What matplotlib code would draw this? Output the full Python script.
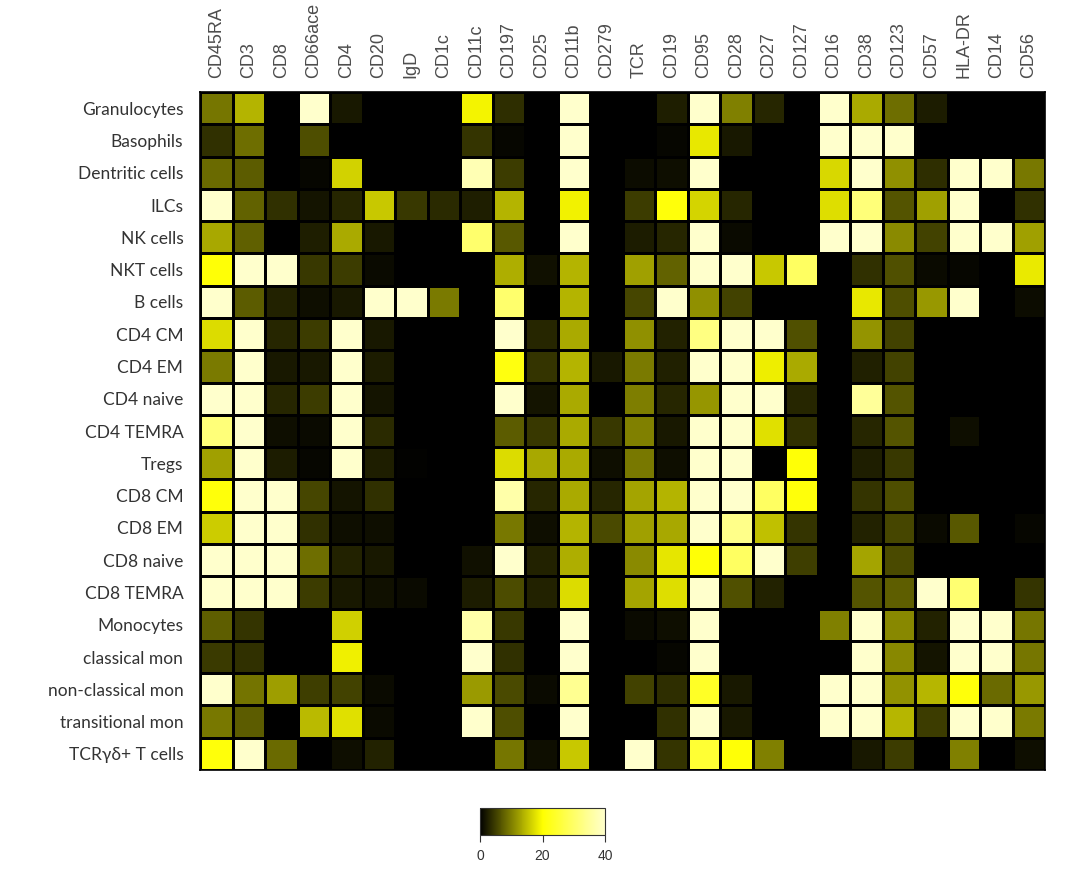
import matplotlib.pyplot as plt
import numpy as np
from matplotlib.colors import LinearSegmentedColormap

# column markers (top labels)
markers = ["CD45RA", "CD3", "CD8", "CD66ace", "CD4", "CD20", "IgD", "CD1c", "CD11c",
           "CD197", "CD25", "CD11b", "CD279", "TCR", "CD19", "CD95", "CD28", "CD27",
           "CD127", "CD16", "CD38", "CD123", "CD57", "HLA-DR", "CD14", "CD56"]

# row cell types
cells = ["Granulocytes", "Basophils", "Dentritic cells", "ILCs", "NK cells", "NKT cells",
         "B cells", "CD4 CM", "CD4 EM", "CD4 naive", "CD4 TEMRA", "Tregs", "CD8 CM",
         "CD8 EM", "CD8 naive", "CD8 TEMRA", "Monocytes", "classical mon",
         "non-classical mon", "transitional mon", "TCR\u03b3\u03b4+ T cells"]

# values, one list per row (same order as markers)
granulocytes = [9.3, 14.1, 0, 40, 2, 0, 0, 0, 19.2, 3.6, 0, 40, 0, 0, 2.4, 40, 10, 3, 0, 40, 13.4, 8.6, 2.2, 0, 0, 0]
basophils = [3.8, 8.6, 0, 6.1, 0, 0, 0, 0, 4.2, 0.5, 0, 40, 0, 0, 0.5, 18.2, 2, 0, 0, 40, 40, 40, 0, 0, 0, 0]
dentritic = [8.3, 7.2, 0, 0.5, 16.5, 0, 0, 0, 37.6, 4.7, 0, 40, 0, 1, 1.2, 40, 0, 0, 0, 17, 40, 11.3, 3.6, 40, 40, 9.4]
ilcs = [40, 7.8, 3.8, 1.6, 3.1, 15.7, 4.5, 3.3, 2.4, 14.1, 0, 19, 0, 4.7, 21, 16.6, 3, 0, 0, 17.4, 31.8, 6.7, 12.5, 40, 0, 3.8]
nk = [13.2, 7.5, 0, 2.4, 13.3, 1.9, 0, 0, 30.6, 7, 0, 40, 0, 2.2, 3.1, 40, 0.8, 0, 0, 40, 40, 10.8, 5.3, 40, 40, 12.5]
nkt = [20.5, 40, 40, 4.4, 4.7, 0.8, 0, 0, 0, 13.6, 1.4, 14.1, 0, 12.5, 7.8, 40, 40, 15.7, 29.4, 0, 3.8, 6.3, 0.8, 0.5, 0, 18.4]
bcells = [40, 7.2, 2.8, 1.2, 1.9, 40, 40, 9.6, 0, 30.6, 0, 14.1, 0, 5.5, 40, 11.3, 5.3, 0, 0, 0, 18.2, 6.1, 12, 40, 0, 1]
cd4_cm = [17.3, 40, 3, 4.7, 40, 1.9, 0, 0, 0, 40, 3, 13.3, 0, 11.3, 2.7, 32.5, 40, 40, 6.3, 0, 11.6, 5.3, 0, 0, 0, 0]
cd4_em = [9.6, 40, 1.9, 2, 40, 2.2, 0, 0, 0, 21.5, 4.2, 14.1, 2, 9.6, 2.5, 40, 40, 18.7, 13.3, 0, 2.5, 5.3, 0, 0, 0, 0]
cd4_naive = [40, 40, 3, 4.7, 40, 1.6, 0.1, 0, 0, 40, 1.7, 13.3, 0, 9.9, 3, 11.8, 40, 40, 3.1, 0, 34.9, 6.6, 0, 0, 0, 0]
cd4_temra = [31.8, 40, 1.1, 0.8, 40, 3.3, 0, 0, 0, 7.2, 4.4, 13.3, 4.4, 10, 2, 40, 40, 17.6, 3.8, 0, 3, 6.6, 0, 1.1, 0, 0]
tregs = [12.5, 40, 2.2, 0.5, 40, 2.4, 0.3, 0, 0, 17.3, 13.2, 13.3, 1.2, 9.4, 1.1, 40, 40, 0, 20.5, 0, 2.4, 4.4, 0, 0, 0, 0]
cd8_cm = [21, 40, 40, 5.6, 1.6, 3.9, 0, 0, 0, 36.5, 3, 13.3, 3.1, 12.9, 14.1, 40, 40, 29.4, 21, 0, 4.1, 6.1, 0, 0, 0, 0]
cd8_em = [16, 40, 40, 3.8, 1.2, 1.2, 0, 0, 0, 9.4, 1.2, 14.1, 5.8, 12.5, 13.2, 40, 33.3, 15, 4.1, 0, 2.8, 5.6, 0.8, 7, 0, 0.5]
cd8_naive = [40, 40, 40, 8.6, 2.7, 1.9, 0, 0, 1.4, 40, 2.8, 13.6, 0, 10.8, 18, 20.5, 29.4, 40, 4.9, 0, 12.9, 5.8, 0, 0, 0, 0]
cd8_temra = [40, 40, 40, 4.7, 2, 1.4, 0.8, 0, 2.2, 6, 2.8, 17.3, 0, 12.9, 17.4, 40, 6.3, 2.7, 0, 0, 6.6, 7.4, 40, 31, 0, 4.1]
monocytes = [7.4, 4.2, 0, 0, 16.3, 0, 0, 0, 36.5, 4.4, 0, 40, 0, 0.8, 1.1, 40, 0, 0, 0, 10, 40, 10.7, 2.8, 40, 40, 9.3]
classical = [4.6, 3.8, 0, 0, 18.8, 0, 0, 0, 40, 3.9, 0, 40, 0, 0, 0.5, 40, 0, 0, 0, 0, 40, 10.7, 1.6, 40, 40, 9.3]
nonclassical = [40, 9.1, 12.4, 4.9, 5.2, 0.8, 0, 0, 12.1, 5.8, 0.8, 34.1, 0, 5.3, 3.6, 23.7, 2, 0, 0, 40, 40, 11.5, 14.3, 21, 8.3, 12]
transitional = [9.4, 7.2, 0, 14.6, 17.6, 0.8, 0, 0, 40, 6.1, 0, 40, 0, 0, 3.9, 40, 2, 0, 0, 40, 40, 14.3, 4.7, 40, 40, 9.6]
tcrgd = [21, 40, 8.3, 0, 1.2, 2.7, 0, 0, 0, 9.3, 1.2, 15.7, 0, 40, 4.1, 25, 20.5, 10, 0, 0, 2, 4.7, 0, 10, 0, 1.1]

data = np.array([granulocytes, basophils, dentritic, ilcs, nk, nkt, bcells, cd4_cm, cd4_em,
                 cd4_naive, cd4_temra, tregs, cd8_cm, cd8_em, cd8_naive, cd8_temra, monocytes,
                 classical, nonclassical, transitional, tcrgd])

cmap = LinearSegmentedColormap.from_list("blackyellow", [(0, "#000000"), (0.5, "#FFFF00"), (1, "#FFFFCC")])

fig = plt.figure(figsize=(10.65, 8.75), dpi=100)
ax = fig.add_axes([200 / 1065, 1 - 770 / 875, 845 / 1065, 678 / 875])
mesh = ax.pcolormesh(data, cmap=cmap, vmin=0, vmax=40, edgecolors="black", linewidth=0.9)
ax.set_xlim(0, len(markers))
ax.set_ylim(len(cells), 0)

ax.xaxis.tick_top()
ax.set_xticks(np.arange(len(markers)) + 0.5)
ax.set_xticklabels(markers, rotation=90, fontsize=13, color="#4D4D4D",
                   family="Liberation Sans")
ax.set_yticks(np.arange(len(cells)) + 0.5)
ax.set_yticklabels(cells, fontsize=12.5, color="#333333", family="Lato")
ax.tick_params(length=0)
ax.tick_params(axis="x", pad=10)
ax.tick_params(axis="y", pad=12)
for s in ax.spines.values():
    s.set_linewidth(1.2)

# colorbar
cax = fig.add_axes([480 / 1065, 1 - 835 / 875, 125 / 1065, 27 / 875])
cb = fig.colorbar(mesh, cax=cax, orientation="horizontal", ticks=[0, 20, 40])
cb.outline.set_edgecolor("#333333")
cb.outline.set_linewidth(0.8)
cax.tick_params(labelsize=10, length=5, width=0.8, colors="#333333", pad=5)
for lab in cax.get_xticklabels():
    lab.set_family("Liberation Sans")

fig.savefig("out.png", dpi=100)
